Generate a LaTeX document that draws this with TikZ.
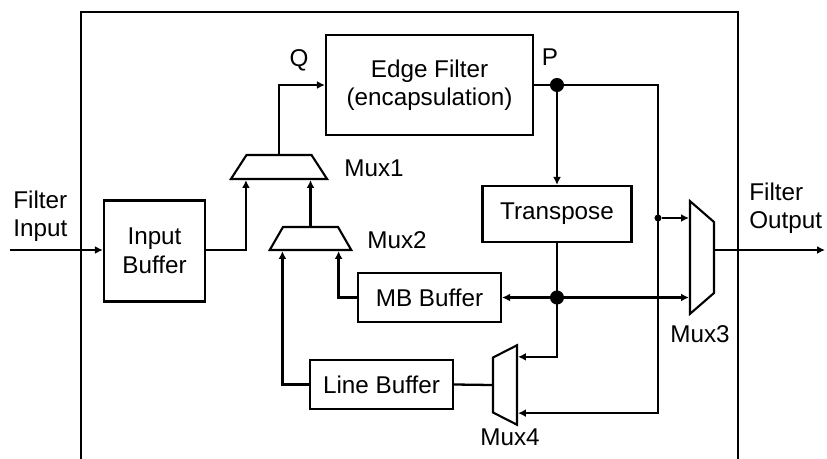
\documentclass[tikz,border=0pt]{standalone}
\usepackage{fontspec}
\setmainfont{Liberation Sans}
\usetikzlibrary{arrows.meta,shapes.geometric}
\begin{document}
\begin{tikzpicture}[x=0.02cm, y=-0.02cm, font=\fontsize{13.8}{16.2}\selectfont,
  blk/.style={draw, line width=1.3pt, inner sep=0pt, align=center},
  mux/.style={draw, line width=1.2pt, trapezium, inner ysep=0.24cm},
  wire/.style={line width=1.3pt},
  arr/.style={wire, -{Latex[length=4.5pt,width=4.5pt]}},
  lbl/.style={inner sep=0pt, align=left},
  dot/.style={circle, fill, inner sep=0pt, minimum size=#1}, dot/.default=4pt]
  \useasboundingbox (0,0) rectangle (827,459);
  % frame
  \draw[line width=0.6pt] (81,459) -- (81,12) -- (738,12) -- (738,459);
  % blocks
  \node[blk, minimum width=4.14cm, minimum height=2cm] (ef) at (429.5,85) {Edge Filter\\(encapsulation)};
  \node[blk, minimum width=2.02cm, minimum height=2.02cm] (ib) at (154.5,251) {Input\\Buffer};
  \node[blk, minimum width=2.98cm, minimum height=1.12cm] (tr) at (557,214) {Transpose};
  \node[blk, minimum width=2.86cm, minimum height=0.98cm] (mb) at (429.5,297.5) {MB Buffer};
  \node[blk, minimum width=2.86cm, minimum height=0.98cm] (lb) at (381.5,384.5) {Line Buffer};
  % muxes
  \node[mux, trapezium angle=57, inner xsep=0.65cm] (mux1) at (279,167) {};
  \node[mux, trapezium angle=60, inner xsep=0.55cm, inner ysep=0.23cm] (mux2) at (310.5,238.5) {};
  \node[mux, rotate=-90, trapezium angle=49, inner xsep=0.71cm] (mux3) at (702,257.5) {};
  \node[mux, rotate=90, trapezium angle=63, inner xsep=0.55cm] (mux4) at (505,385) {};
  % labels
  \node[lbl] (q) at (299,60) {Q};
  \node[lbl] (p) at (550,57) {P};
  \node[lbl] (m1) at (374,168) {Mux1};
  \node[lbl] (m2) at (397,240) {Mux2};
  \node[lbl] (m3) at (700,334) {Mux3};
  \node[lbl] (m4) at (510,437) {Mux4};
  \node[lbl, anchor=west] (fil) at (13,216) {Filter\\Input};
  \node[lbl, anchor=west] (fol) at (749,208) {Filter\\Output};
  % junctions
  \node[dot=8pt] (pdot) at (557,85) {};
  \node[dot=8pt] (mbdot) at (557,297.5) {};
  \node[dot] (tap) at (658,218) {};
  \coordinate (fin) at (10,250);
  \coordinate (fout) at (825,250);
  % wires
  \draw[arr] (fin) -- (fin -| ib.west);
  \draw[arr] (ib.east |- fin) -| (mux1.top left corner |- mux1.south);
  \draw[arr] (mux1.north) |- (ef.west);
  \draw[arr] (mux2.north) -- (mux2.north |- mux1.south);
  \draw[arr] (lb.west) -| (mux2.top left corner |- mux2.south);
  \draw[arr] (mb.west) -| (mux2.top right corner |- mux2.south);
  \draw[arr] (ef.east) -| (tap.center) |- (mux4.south |- mux4.top left corner);
  \draw[arr] (pdot) -- (tr.north);
  \draw[arr] (tr.south) |- (mux4.south |- mux4.top right corner);
  \draw[arr] (mbdot) -- (mb.east);
  \draw[arr] (mbdot) -- (mbdot -| mux3.south);
  \draw[arr] (tap) -- (tap -| mux3.south);
  \draw[arr] (mux3.north |- fout) -- (fout);
  \draw[wire] (mux4.north) -- (lb.east);
\end{tikzpicture}
\end{document}
